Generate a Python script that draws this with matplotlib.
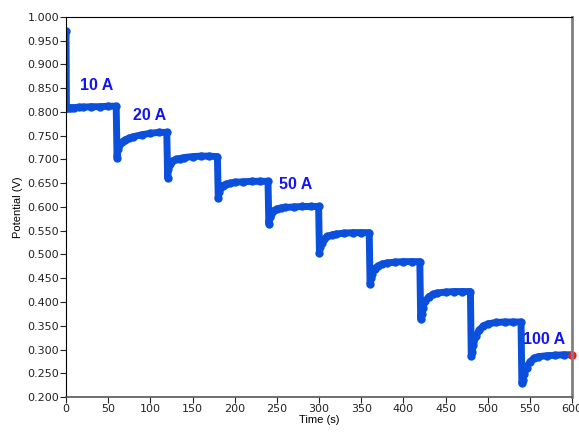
import matplotlib
matplotlib.use('Agg')
import matplotlib.pyplot as plt
import numpy as np

# current steps, each held 60 s
step_starts = [0, 60, 120, 180, 240, 300, 360, 420, 480, 540]
offsets = [0.5, 1.5, 3, 6, 10, 15, 20, 30, 40, 50, 59.5]

# potential (V) read at the offsets above, one row per step
step_volts = [
    [0.808, 0.808, 0.808, 0.809, 0.809, 0.810, 0.810, 0.811, 0.811, 0.812, 0.812],
    [0.704, 0.722, 0.730, 0.736, 0.741, 0.745, 0.748, 0.752, 0.755, 0.757, 0.757],
    [0.662, 0.680, 0.690, 0.696, 0.700, 0.702, 0.704, 0.706, 0.707, 0.707, 0.706],
    [0.618, 0.632, 0.640, 0.645, 0.648, 0.650, 0.652, 0.653, 0.654, 0.654, 0.654],
    [0.565, 0.578, 0.586, 0.592, 0.596, 0.598, 0.599, 0.600, 0.601, 0.601, 0.601],
    [0.504, 0.515, 0.524, 0.532, 0.538, 0.541, 0.543, 0.545, 0.546, 0.546, 0.546],
    [0.438, 0.450, 0.460, 0.470, 0.476, 0.480, 0.482, 0.484, 0.485, 0.485, 0.485],
    [0.365, 0.375, 0.388, 0.402, 0.411, 0.416, 0.419, 0.421, 0.422, 0.422, 0.422],
    [0.286, 0.295, 0.310, 0.328, 0.341, 0.350, 0.354, 0.357, 0.358, 0.358, 0.358],
    [0.229, 0.235, 0.248, 0.262, 0.274, 0.282, 0.285, 0.287, 0.288, 0.289, 0.289],
]
start_time, start_volt = 0.0, 0.970
last_time, last_volt = 600.0, 0.289

labels = ['10 A', '20 A', '50 A', '100 A']
label_pos = [(16, 0.856), (79, 0.793), (253, 0.647), (542, 0.322)]

t = [start_time]
v = [start_volt]
for s, vals in zip(step_starts, step_volts):
    t += [s + o for o in offsets]
    v += vals
t.append(last_time)
v.append(last_volt)

fig = plt.figure(figsize=(5.79, 4.33), dpi=100)
ax = fig.add_axes([0.114, 0.083, 0.874, 0.878])

blue = '#0a50dc'
ax.plot(t, v, color=blue, lw=5, marker='o', ms=5, mec=blue, mfc=blue,
        solid_joinstyle='round', solid_capstyle='round')
ax.plot([last_time], [last_volt], 'o', color='#e82020', ms=5, clip_on=False)

for lab, (x, y) in zip(labels, label_pos):
    ax.text(x, y, lab, color='#1414f0', fontsize=11.5, fontweight='bold',
            va='center', ha='left', family='Liberation Sans')

ax.set_xlim(0, 600)
ax.set_ylim(0.2, 1.0)
ax.set_xticks(np.arange(0, 601, 50))
ax.set_yticks(np.arange(0.2, 1.001, 0.05))
ax.set_yticklabels([f'{y:.3f}' for y in np.arange(0.2, 1.001, 0.05)])
ax.tick_params(labelsize=8, length=4, width=0.8, pad=1, colors='#222222')

ax.spines['right'].set_color('#808080')
ax.spines['right'].set_linewidth(2)
ax.spines['bottom'].set_color('#555555')
ax.spines['bottom'].set_linewidth(1.2)

ax.set_xlabel('Time (s)', fontsize=8, family='Liberation Sans', labelpad=1)
ax.set_ylabel('Potential (V)', fontsize=8, family='Liberation Sans', labelpad=3)

fig.savefig('out.png', dpi=100)
